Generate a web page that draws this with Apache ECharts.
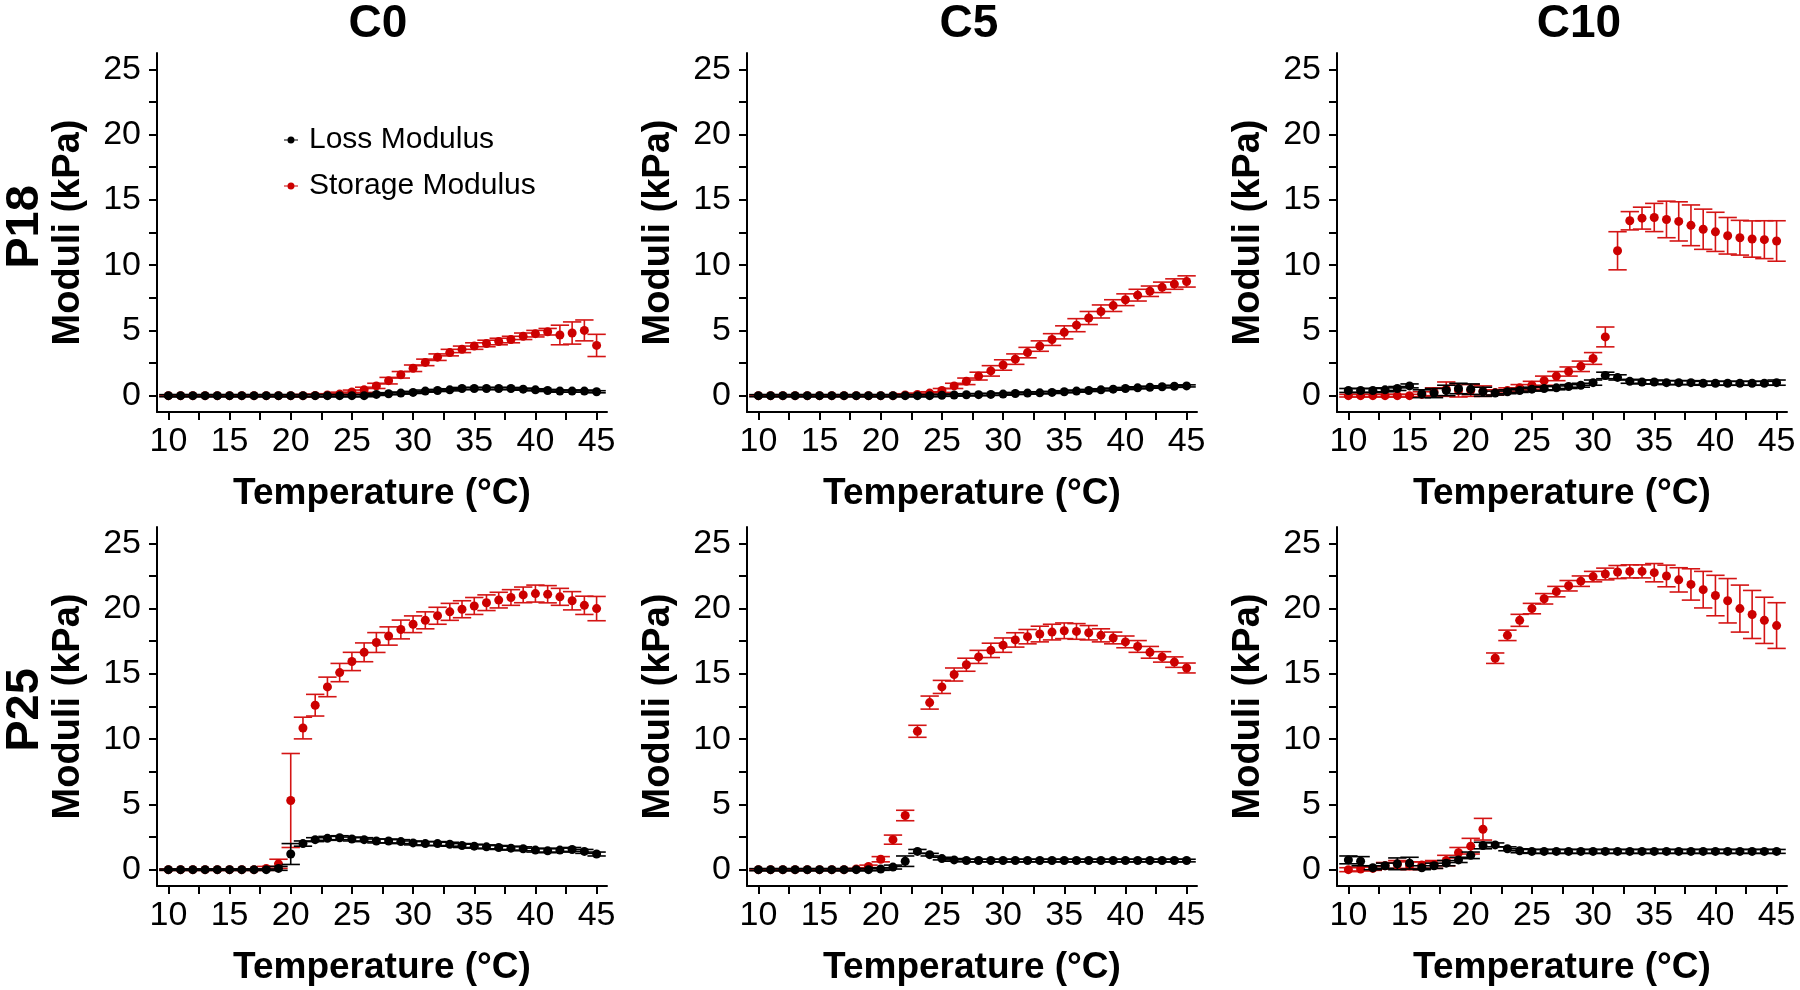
<!DOCTYPE html>
<html>
<head>
<meta charset="utf-8">
<title>Moduli vs temperature</title>
<script src="https://cdn.jsdelivr.net/npm/echarts@6.0.0/dist/echarts.min.js"></script>
<style>
  html, body { margin: 0; padding: 0; background: #fff; }
  #chart { width: 1800px; height: 990px; }
</style>
</head>
<body>
<div id="chart"></div>
<script>
  // temperature of every reading (°C)
  var temps = [10, 11, 12, 13, 14, 15, 16, 17, 18, 19, 20, 21, 22, 23, 24, 25, 26, 27,
               28, 29, 30, 31, 32, 33, 34, 35, 36, 37, 38, 39, 40, 41, 42, 43, 44, 45];

  var xLabelValues = [10, 15, 20, 25, 30, 35, 40, 45];
  var xTickValues = [10, 12.5, 15, 17.5, 20, 22.5, 25, 27.5, 30, 32.5, 35, 37.5, 40, 42.5, 45];
  var yLabelValues = [0, 5, 10, 15, 20, 25];
  var yTickValues = [0, 2.5, 5, 7.5, 10, 12.5, 15, 17.5, 20, 22.5, 25];

  var colTitles = ['C0', 'C5', 'C10'];
  var rowTitles = ['P18', 'P25'];

  // P18 / C0
  var lossP18C0 = [0, 0, 0, 0, 0, 0, 0, 0, 0, 0, 0, 0, 0, 0, 0, 0, 0, 0.1,
                   0.15, 0.2, 0.25, 0.35, 0.4, 0.45, 0.55, 0.55, 0.55, 0.55, 0.55, 0.5, 0.45, 0.4, 0.35, 0.35, 0.35, 0.3];
  var lossErrP18C0 = [0.08, 0.08, 0.08, 0.08, 0.08, 0.08, 0.08, 0.08, 0.08, 0.08, 0.08, 0.08, 0.08, 0.08, 0.08, 0.08, 0.08, 0.08,
                      0.08, 0.08, 0.08, 0.08, 0.08, 0.08, 0.08, 0.08, 0.08, 0.08, 0.08, 0.08, 0.08, 0.08, 0.08, 0.08, 0.08, 0.08];
  var storP18C0 = [0, 0, 0, 0, 0, 0, 0, 0, 0, 0, 0, 0, 0.02, 0.05, 0.12, 0.28, 0.45, 0.75,
                   1.15, 1.6, 2.1, 2.55, 2.95, 3.3, 3.55, 3.8, 4.0, 4.15, 4.3, 4.55, 4.75, 4.9, 4.65, 4.8, 5.0, 3.85];
  var storErrP18C0 = [0.05, 0.05, 0.05, 0.05, 0.05, 0.05, 0.05, 0.05, 0.05, 0.05, 0.05, 0.1, 0.1, 0.1, 0.15, 0.15, 0.2, 0.2,
                      0.25, 0.25, 0.25, 0.25, 0.25, 0.25, 0.25, 0.25, 0.25, 0.25, 0.25, 0.25, 0.25, 0.25, 0.75, 0.85, 0.8, 0.85];

  // P18 / C5
  var lossP18C5 = [0, 0, 0, 0, 0, 0, 0, 0, 0, 0, 0, 0, 0, 0, 0, 0.03, 0.05, 0.07,
                   0.08, 0.1, 0.12, 0.17, 0.2, 0.22, 0.25, 0.3, 0.35, 0.4, 0.45, 0.5, 0.55, 0.6, 0.65, 0.68, 0.72, 0.75];
  var lossErrP18C5 = [0.08, 0.08, 0.08, 0.08, 0.08, 0.08, 0.08, 0.08, 0.08, 0.08, 0.08, 0.08, 0.08, 0.08, 0.08, 0.08, 0.08, 0.08,
                      0.08, 0.08, 0.08, 0.08, 0.08, 0.08, 0.08, 0.08, 0.08, 0.08, 0.08, 0.08, 0.08, 0.08, 0.08, 0.08, 0.08, 0.08];
  var storP18C5 = [0, 0, 0, 0, 0, 0, 0, 0, 0, 0, 0, 0, 0.05, 0.1, 0.2, 0.4, 0.75, 1.1,
                   1.5, 1.9, 2.35, 2.8, 3.3, 3.8, 4.3, 4.85, 5.4, 5.95, 6.45, 6.9, 7.35, 7.7, 8.0, 8.3, 8.55, 8.75];
  var storErrP18C5 = [0.05, 0.05, 0.05, 0.05, 0.05, 0.05, 0.05, 0.05, 0.05, 0.05, 0.05, 0.05, 0.1, 0.1, 0.1, 0.15, 0.2, 0.25,
                      0.3, 0.4, 0.4, 0.4, 0.4, 0.4, 0.45, 0.5, 0.5, 0.5, 0.5, 0.45, 0.45, 0.45, 0.4, 0.4, 0.4, 0.43];

  // P18 / C10
  var lossP18C10 = [0.4, 0.4, 0.4, 0.45, 0.55, 0.75, 0.15, 0.2, 0.4, 0.55, 0.5, 0.3, 0.2, 0.3, 0.4, 0.5, 0.55, 0.6,
                    0.7, 0.8, 1.0, 1.55, 1.4, 1.1, 1.05, 1.05, 1.0, 1.0, 1.0, 0.95, 0.95, 0.95, 0.95, 0.95, 0.95, 1.0];
  var lossErrP18C10 = [0.15, 0.15, 0.15, 0.15, 0.15, 0.15, 0.3, 0.35, 0.4, 0.4, 0.4, 0.35, 0.15, 0.15, 0.15, 0.15, 0.15, 0.15,
                       0.15, 0.15, 0.2, 0.25, 0.2, 0.15, 0.15, 0.15, 0.15, 0.15, 0.15, 0.15, 0.15, 0.15, 0.15, 0.15, 0.15, 0.2];
  var storP18C10 = [0, 0, 0, 0, 0, 0, 0.1, 0.3, 0.5, 0.4, 0.4, 0.35, 0.25, 0.4, 0.6, 0.8, 1.15, 1.5,
                    1.85, 2.25, 2.85, 4.5, 11.1, 13.4, 13.6, 13.65, 13.5, 13.35, 13.05, 12.75, 12.55, 12.25, 12.1, 12.0, 11.95, 11.85];
  var storErrP18C10 = [0.1, 0.1, 0.1, 0.1, 0.1, 0.1, 0.2, 0.3, 0.55, 0.5, 0.45, 0.4, 0.2, 0.2, 0.25, 0.3, 0.35, 0.35,
                       0.35, 0.4, 0.45, 0.76, 1.46, 0.7, 0.84, 1.08, 1.4, 1.5, 1.56, 1.54, 1.5, 1.4, 1.33, 1.39, 1.45, 1.55];

  // P25 / C0
  var lossP25C0 = [0, 0, 0, 0, 0, 0, 0, 0, 0, 0.1, 1.2, 2.0, 2.3, 2.4, 2.45, 2.35, 2.3, 2.2,
                   2.2, 2.15, 2.05, 2.0, 2.0, 1.95, 1.85, 1.8, 1.75, 1.7, 1.65, 1.6, 1.5, 1.45, 1.5, 1.55, 1.4, 1.2];
  var lossErrP25C0 = [0.05, 0.05, 0.05, 0.05, 0.05, 0.05, 0.05, 0.05, 0.05, 0.15, 0.8, 0.2, 0.15, 0.15, 0.15, 0.15, 0.15, 0.15,
                      0.15, 0.15, 0.15, 0.15, 0.15, 0.15, 0.15, 0.15, 0.15, 0.15, 0.15, 0.15, 0.15, 0.15, 0.15, 0.15, 0.15, 0.15];
  var storP25C0 = [0, 0, 0, 0, 0, 0, 0, 0, 0.1, 0.45, 5.3, 10.85, 12.6, 14.0, 15.1, 15.95, 16.65, 17.4,
                   17.9, 18.4, 18.8, 19.1, 19.45, 19.75, 19.95, 20.2, 20.45, 20.65, 20.85, 21.05, 21.15, 21.1, 20.9, 20.6, 20.25, 20.0];
  var storErrP25C0 = [0.05, 0.05, 0.05, 0.05, 0.05, 0.05, 0.05, 0.05, 0.15, 0.35, 3.6, 0.83, 0.83, 0.75, 0.7, 0.7, 0.72, 0.76,
                      0.7, 0.72, 0.64, 0.65, 0.65, 0.65, 0.65, 0.65, 0.6, 0.6, 0.6, 0.6, 0.65, 0.66, 0.65, 0.7, 0.7, 0.93];

  // P25 / C5
  var lossP25C5 = [0, 0, 0, 0, 0, 0, 0, 0, 0, 0, 0.05, 0.2, 0.65, 1.4, 1.15, 0.85, 0.75, 0.7,
                   0.7, 0.7, 0.7, 0.7, 0.7, 0.7, 0.7, 0.7, 0.7, 0.7, 0.7, 0.7, 0.7, 0.7, 0.7, 0.7, 0.7, 0.7];
  var lossErrP25C5 = [0.08, 0.08, 0.08, 0.08, 0.08, 0.08, 0.08, 0.08, 0.08, 0.08, 0.1, 0.15, 0.4, 0.15, 0.1, 0.1, 0.1, 0.1,
                      0.1, 0.1, 0.1, 0.1, 0.1, 0.1, 0.1, 0.1, 0.1, 0.1, 0.1, 0.1, 0.1, 0.1, 0.1, 0.1, 0.1, 0.1];
  var storP25C5 = [0, 0, 0, 0, 0, 0, 0, 0, 0.05, 0.25, 0.8, 2.3, 4.15, 10.6, 12.8, 14.0, 14.95, 15.7,
                   16.3, 16.8, 17.2, 17.6, 17.85, 18.05, 18.2, 18.3, 18.25, 18.15, 17.95, 17.75, 17.45, 17.1, 16.65, 16.3, 15.9, 15.45];
  var storErrP25C5 = [0.05, 0.05, 0.05, 0.05, 0.05, 0.05, 0.05, 0.05, 0.05, 0.1, 0.2, 0.35, 0.4, 0.46, 0.5, 0.5, 0.5, 0.5,
                      0.5, 0.55, 0.55, 0.55, 0.55, 0.6, 0.6, 0.6, 0.6, 0.55, 0.5, 0.45, 0.45, 0.45, 0.45, 0.4, 0.4, 0.38];

  // P25 / C10
  var lossP25C10 = [0.75, 0.65, 0.15, 0.3, 0.45, 0.5, 0.15, 0.3, 0.5, 0.75, 1.1, 1.85, 1.9, 1.6, 1.45, 1.4, 1.4, 1.4,
                    1.4, 1.4, 1.4, 1.4, 1.4, 1.4, 1.4, 1.4, 1.4, 1.4, 1.4, 1.4, 1.4, 1.4, 1.4, 1.4, 1.4, 1.4];
  var lossErrP25C10 = [0.3, 0.35, 0.15, 0.2, 0.45, 0.45, 0.15, 0.2, 0.2, 0.2, 0.25, 0.25, 0.15, 0.15, 0.15, 0.15, 0.15, 0.15,
                       0.15, 0.15, 0.15, 0.15, 0.15, 0.15, 0.15, 0.15, 0.15, 0.15, 0.15, 0.15, 0.15, 0.15, 0.15, 0.15, 0.15, 0.15];
  var storP25C10 = [0, 0.05, 0.1, 0.3, 0.4, 0.3, 0.35, 0.4, 0.7, 1.3, 1.8, 3.1, 16.2, 17.95, 19.1, 20.0, 20.75, 21.3,
                    21.75, 22.1, 22.45, 22.65, 22.8, 22.85, 22.85, 22.75, 22.5, 22.2, 21.85, 21.45, 21.0, 20.6, 20.0, 19.55, 19.1, 18.7];
  var storErrP25C10 = [0.15, 0.15, 0.15, 0.25, 0.3, 0.3, 0.25, 0.3, 0.4, 0.4, 0.6, 0.83, 0.4, 0.4, 0.46, 0.4, 0.4, 0.4,
                       0.4, 0.4, 0.4, 0.45, 0.5, 0.5, 0.5, 0.7, 0.83, 0.93, 1.2, 1.4, 1.55, 1.7, 1.8, 1.84, 1.77, 1.75];

  var panels = [
    { row: 0, col: 0, loss: lossP18C0, lossErr: lossErrP18C0, stor: storP18C0, storErr: storErrP18C0 },
    { row: 0, col: 1, loss: lossP18C5, lossErr: lossErrP18C5, stor: storP18C5, storErr: storErrP18C5 },
    { row: 0, col: 2, loss: lossP18C10, lossErr: lossErrP18C10, stor: storP18C10, storErr: storErrP18C10 },
    { row: 1, col: 0, loss: lossP25C0, lossErr: lossErrP25C0, stor: storP25C0, storErr: storErrP25C0 },
    { row: 1, col: 1, loss: lossP25C5, lossErr: lossErrP25C5, stor: storP25C5, storErr: storErrP25C5 },
    { row: 1, col: 2, loss: lossP25C10, lossErr: lossErrP25C10, stor: storP25C10, storErr: storErrP25C10 }
  ];

  var FONT = '"Liberation Sans", Arial, sans-serif';
  var RED = '#cc0000';
  var RED_BAR = '#d41414';
  var gridLeft = [157, 747, 1337];
  var gridTop = [53, 527];
  var colTitleX = [378, 969, 1579];
  var rowTitleY = [227, 710];

  function points(vals) {
    return temps.map(function (t, i) { return [t, vals[i]]; });
  }

  function bars(vals, errs) {
    return temps.map(function (t, i) { return [t, vals[i] - errs[i], vals[i] + errs[i]]; });
  }

  function renderErrorBar(params, api) {
    var x = api.value(0);
    var lo = api.coord([x, api.value(1)]);
    var hi = api.coord([x, api.value(2)]);
    var hw = api.size([0.75, 0])[0];
    var style = { stroke: api.visual('color'), lineWidth: 1.6 };
    return {
      type: 'group',
      children: [
        { type: 'line', shape: { x1: lo[0], y1: lo[1], x2: hi[0], y2: hi[1] }, style: style },
        { type: 'line', shape: { x1: lo[0] - hw, y1: lo[1], x2: lo[0] + hw, y2: lo[1] }, style: style },
        { type: 'line', shape: { x1: hi[0] - hw, y1: hi[1], x2: hi[0] + hw, y2: hi[1] }, style: style }
      ]
    };
  }

  var grids = [], xAxes = [], yAxes = [], series = [];

  panels.forEach(function (p, i) {
    grids.push({ left: gridLeft[p.col], top: gridTop[p.row], width: 450, height: 359 });

    xAxes.push({
      type: 'value', gridIndex: i, min: 9.07, max: 45.85,
      name: 'Temperature (°C)', nameLocation: 'middle', nameGap: 63,
      nameTextStyle: { fontFamily: FONT, fontSize: 37, fontWeight: 'bold', color: '#000' },
      axisLine: { onZero: false, lineStyle: { color: '#000', width: 2 } },
      axisTick: { show: true, length: 8, customValues: xTickValues, lineStyle: { color: '#000', width: 2 } },
      axisLabel: { customValues: xLabelValues, fontFamily: FONT, fontSize: 34, color: '#000', margin: 13 },
      splitLine: { show: false }
    });

    yAxes.push({
      type: 'value', gridIndex: i, min: -1.25, max: 26.25,
      name: 'Moduli (kPa)', nameLocation: 'middle', nameGap: 69,
      nameTextStyle: { fontFamily: FONT, fontSize: 38, fontWeight: 'bold', color: '#000' },
      axisLine: { onZero: false, lineStyle: { color: '#000', width: 2 } },
      axisTick: { show: true, length: 8, customValues: yTickValues, lineStyle: { color: '#000', width: 2 } },
      axisLabel: { customValues: yLabelValues, fontFamily: FONT, fontSize: 34, color: '#000', margin: 16 },
      splitLine: { show: false }
    });

    series.push({
      name: 'Storage Modulus', type: 'custom', xAxisIndex: i, yAxisIndex: i, z: 2,
      itemStyle: { color: RED_BAR }, renderItem: renderErrorBar,
      encode: { x: 0, y: [1, 2] }, data: bars(p.stor, p.storErr)
    });
    series.push({
      name: 'Storage Modulus', type: 'scatter', xAxisIndex: i, yAxisIndex: i, z: 3,
      symbol: 'circle', symbolSize: 9, itemStyle: { color: RED, opacity: 1 },
      data: points(p.stor)
    });
    series.push({
      name: 'Loss Modulus', type: 'custom', xAxisIndex: i, yAxisIndex: i, z: 4,
      itemStyle: { color: '#000' }, renderItem: renderErrorBar,
      encode: { x: 0, y: [1, 2] }, data: bars(p.loss, p.lossErr)
    });
    series.push({
      name: 'Loss Modulus', type: 'scatter', xAxisIndex: i, yAxisIndex: i, z: 5,
      symbol: 'circle', symbolSize: 9, itemStyle: { color: '#000', opacity: 1 },
      data: points(p.loss)
    });
  });

  var graphics = [];
  colTitles.forEach(function (t, c) {
    graphics.push({
      type: 'text', x: colTitleX[c], y: 24,
      style: { text: t, font: 'bold 46px ' + FONT, fill: '#000', textAlign: 'center', textVerticalAlign: 'middle' }
    });
  });
  rowTitles.forEach(function (t, r) {
    graphics.push({
      type: 'text', x: 25, y: rowTitleY[r], rotation: Math.PI / 2,
      style: { text: t, font: 'bold 47px ' + FONT, fill: '#000', textAlign: 'center', textVerticalAlign: 'middle' }
    });
  });

  var legendIcon = 'path://M0,3.4L14,3.4L14,4.6L0,4.6Z M7,0.5A3.5,3.5 0 1 1 6.99,0.5Z';

  var chart = echarts.init(document.getElementById('chart'));
  chart.setOption({
    animation: false,
    backgroundColor: '#fff',
    grid: grids,
    xAxis: xAxes,
    yAxis: yAxes,
    legend: {
      data: [
        { name: 'Loss Modulus', icon: legendIcon, itemStyle: { color: '#000' } },
        { name: 'Storage Modulus', icon: legendIcon, itemStyle: { color: RED } }
      ],
      orient: 'vertical', left: 279, top: 120,
      itemWidth: 14, itemHeight: 8, itemGap: 16,
      selectedMode: false,
      textStyle: { fontFamily: FONT, fontSize: 30, color: '#000', padding: [0, 0, 0, 6] }
    },
    graphic: graphics,
    series: series
  });
</script>
</body>
</html>
